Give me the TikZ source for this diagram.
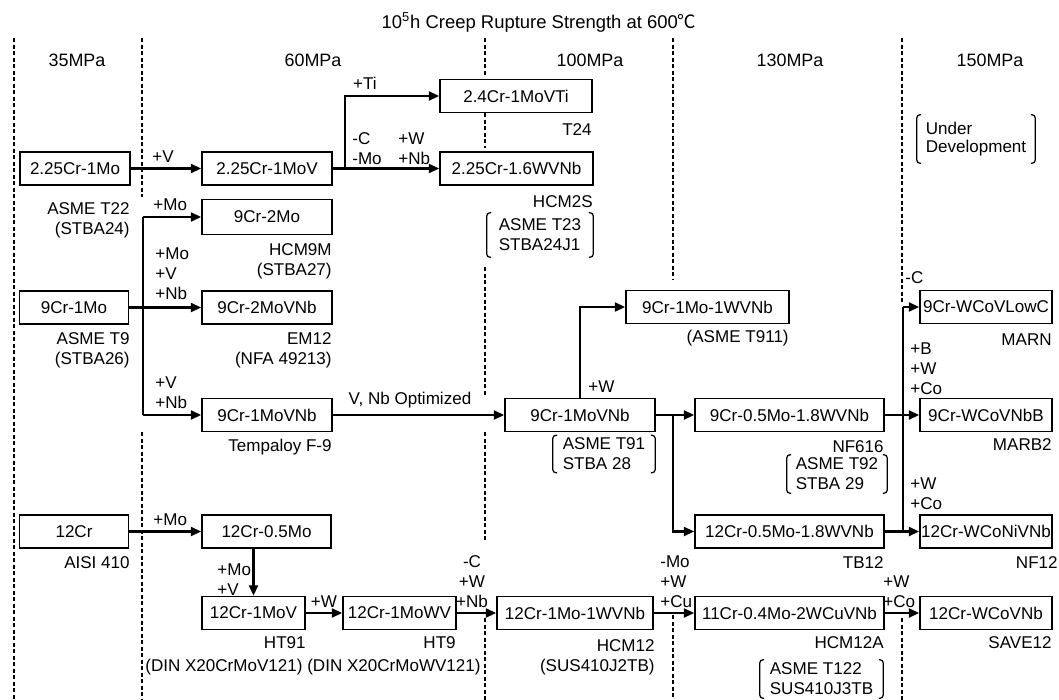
\documentclass[tikz,border=0pt]{standalone}
\usepackage{fontspec}
\setmainfont{Liberation Sans}
\newfontfamily\cjk{Noto Sans CJK SC}
\usetikzlibrary{arrows.meta}
\newcommand\lblfont{\fontsize{9.7pt}{11.4pt}\selectfont}
\newcommand\drawbrk[1]{%
 \draw[brkline] ([xshift=2.5pt]#1.north west) -- (#1.north west) -- (#1.south west) -- ([xshift=2.5pt]#1.south west);
 \draw[brkline] ([xshift=-2.5pt]#1.north east) -- (#1.north east) -- (#1.south east) -- ([xshift=-2.5pt]#1.south east);}
\begin{document}
\begin{tikzpicture}[x=0.02cm,y=-0.02cm,
  box/.style={draw, line width=0.75pt, inner sep=0pt, minimum height=0.66cm, font=\lblfont},
  lbl/.style={inner sep=0pt, font=\lblfont},
  hdr/.style={inner sep=0pt, font=\fontsize{10.2pt}{12pt}\selectfont},
  conn/.style={line width=1.5pt},
  arr/.style={conn, -{Triangle[length=6pt,width=5pt]}},
  sep/.style={line width=1.1pt, dash pattern=on 2.5pt off 1.2pt},
  brkline/.style={line width=0.7pt, rounded corners=2pt},
  bnode/.style={inner sep=0pt, font=\lblfont, align=left}]
\useasboundingbox (0,0) rectangle (1059,700);
% column separators
\draw[sep] (14,38) -- (14,700);
\draw[sep] (142,38) -- (142,197);
\draw[sep] (142,432) -- (142,700);
\draw[sep] (485,38) -- (485,76);
\draw[sep] (485,113) -- (485,148);
\draw[sep] (485,267) -- (485,397);
\draw[sep] (485,432) -- (485,542);
\draw[sep] (485,618) -- (485,700);
\draw[sep] (673,38) -- (673,280);
\draw[sep] (673,615) -- (673,700);
\draw[sep] (902,38) -- (902,303);
\draw[sep] (902,618) -- (902,700);
% title and headers
\node[inner sep=0pt, font=\fontsize{10.5pt}{12pt}\selectfont] (title) at (539,22) {10\textsuperscript{5}h Creep Rupture Strength at 600{\cjk ℃}};
\node[hdr] (h1) at (77,60) {35MPa};
\node[hdr] (h2) at (313,60) {60MPa};
\node[hdr] (h3) at (590,60) {100MPa};
\node[hdr] (h4) at (790,60) {130MPa};
\node[hdr] (h5) at (990,60) {150MPa};
% boxes
\node[box, minimum width=2.2cm] (b1) at (75,168.5) {2.25Cr-1Mo};
\node[box, minimum width=2.6cm] (b2) at (267,168.5) {2.25Cr-1MoV};
\node[box, minimum width=2.6cm, minimum height=0.7cm] (b3) at (267,217) {9Cr-2Mo};
\node[box, minimum width=3.04cm] (b4) at (516,96) {2.4Cr-1MoVTi};
\node[box, minimum width=3.06cm] (b5) at (516.5,168.5) {2.25Cr-1.6WVNb};
\node[box, minimum width=2.18cm] (b6) at (74,307.5) {9Cr-1Mo};
\node[box, minimum width=2.6cm] (b7) at (267,307.5) {9Cr-2MoVNb};
\node[box, minimum width=2.6cm] (b8) at (267,415) {9Cr-1MoVNb};
\node[box, minimum width=3.0cm] (b9) at (580,415) {9Cr-1MoVNb};
\node[box, minimum width=3.26cm] (b10) at (707.5,307) {9Cr-1Mo-1WVNb};
\node[box, minimum width=3.78cm] (b11) at (789.5,415) {9Cr-0.5Mo-1.8WVNb};
\node[box, minimum width=3.78cm] (b12) at (789.5,531.5) {12Cr-0.5Mo-1.8WVNb};
\node[box, minimum width=2.64cm] (b13) at (986,307) {9Cr-WCoVLowC};
\node[box, minimum width=2.64cm] (b14) at (986,415) {9Cr-WCoVNbB};
\node[box, minimum width=2.64cm] (b15) at (986,531.5) {12Cr-WCoNiVNb};
\node[box, minimum width=2.18cm] (b16) at (74,531.5) {12Cr};
\node[box, minimum width=2.58cm] (b17) at (266.5,531.5) {12Cr-0.5Mo};
\node[box, minimum width=2.06cm] (b18) at (253.5,613) {12Cr-1MoV};
\node[box, minimum width=2.26cm] (b19) at (399.5,613) {12Cr-1MoWV};
\node[box, minimum width=3.12cm] (b20) at (575,613) {12Cr-1Mo-1WVNb};
\node[box, minimum width=3.78cm] (b21) at (789.5,613) {11Cr-0.4Mo-2WCuVNb};
\node[box, minimum width=2.64cm] (b22) at (986,613) {12Cr-WCoVNb};
% designations
\node[lbl, anchor=east, align=right] (l1) at (130,220) {ASME T22\\(STBA24)};
\node[lbl, anchor=east] (l2) at (592,130) {T24};
\node[lbl, anchor=east] (l3) at (593,202) {HCM2S};
\node[bnode, minimum width=2.12cm, minimum height=0.88cm] (br1) at (540,235) {ASME T23\\STBA24J1};
\node[lbl, anchor=east, align=right] (l4) at (332,261) {HCM9M\\(STBA27)};
\node[lbl, anchor=east, align=right] (l5) at (130,350) {ASME T9\\(STBA26)};
\node[lbl, anchor=east, align=right] (l6) at (332,350) {EM12\\(NFA 49213)};
\node[lbl, anchor=east] (l7) at (332,447) {Tempaloy F-9};
\node[bnode, minimum width=2.04cm, minimum height=0.74cm] (br2) at (604,454) {ASME T91\\STBA 28};
\node[lbl, anchor=east] (l8) at (789,338) {(ASME T911)};
\node[lbl, anchor=east] (l9) at (884,447) {NF616};
\node[bnode, minimum width=2.0cm, minimum height=0.76cm] (br3) at (837,474) {ASME T92\\STBA 29};
\node[lbl, anchor=east] (l10) at (1052,340) {MARN};
\node[lbl, anchor=east] (l11) at (1052,445) {MARB2};
\node[lbl, anchor=east] (l12) at (884,563) {TB12};
\node[lbl, anchor=east] (l13) at (1058,563) {NF12};
\node[lbl, anchor=east] (l14) at (130,563) {AISI 410};
\node[lbl, anchor=east] (l15) at (306,643) {HT91};
\node[lbl, anchor=east] (l16) at (456,643) {HT9};
\node[lbl] (l17) at (313,667) {(DIN X20CrMoV121) (DIN X20CrMoWV121)};
\node[lbl, anchor=east, align=right] (l18) at (655,657) {HCM12\\(SUS410J2TB)};
\node[lbl, anchor=east] (l19) at (884,643) {HCM12A};
\node[bnode, minimum width=2.46cm, minimum height=0.76cm] (br4) at (821.5,679) {ASME T122\\SUS410J3TB};
\node[lbl, anchor=east] (l20) at (1052,643) {SAVE12};
\node[bnode, font=\fontsize{9.7pt}{10.2pt}\selectfont, minimum width=2.36cm, minimum height=0.96cm] (br5) at (976,139) {Under\\Development};
\drawbrk{br1}
\drawbrk{br2}
\drawbrk{br3}
\drawbrk{br4}
\drawbrk{br5}
% connectors
\coordinate (j1) at (345,168.5);
\coordinate (j2a) at (143,217);
\coordinate (j2b) at (143,415);
\coordinate (j3) at (673,415);
\coordinate (j4a) at (903,307);
\coordinate (j4b) at (903,531.5);
\draw[arr] (b1) -- (b2);
\draw[arr] (b2) -- (b5);
\draw[arr] (j1) |- (b4.west);
\draw[conn] (j2a) -- (j2b);
\draw[arr] (j2a) -- (b3.west);
\draw[arr] (b6) -- (b7);
\draw[arr] (j2b) -- (b8.west);
\draw[arr] (b8) -- (b9);
\draw[arr] (b9) -- (b11);
\draw[arr] (j3) |- (b12.west);
\draw[arr] (b9.north) |- (b10.west);
\draw[arr] (b11) -- (b14);
\draw[conn] (j4a) -- (j4b);
\draw[arr] (j4a) -- (b13.west);
\draw[arr] (b12) -- (b15);
\draw[arr] (b16) -- (b17);
\draw[arr] (b18.north |- b17.south) -- (b18.north);
\draw[arr] (b18) -- (b19);
\draw[arr] (b19) -- (b20);
\draw[arr] (b20) -- (b21);
\draw[arr] (b21) -- (b22);
% connector labels
\node[lbl] (e1) at (163,157) {+V};
\node[lbl] (e2) at (365,83) {+Ti};
\node[lbl, anchor=west, align=left] (e3) at (352,149) {-C\\-Mo};
\node[lbl, anchor=west, align=left] (e4) at (398,149) {+W\\+Nb};
\node[lbl, anchor=west] (e5) at (153,205) {+Mo};
\node[lbl, anchor=west, align=left] (e6) at (155,274) {+Mo\\+V\\+Nb};
\node[lbl, anchor=west, align=left] (e7) at (155,393) {+V\\+Nb};
\node[lbl] (e8) at (410,400) {V, Nb Optimized};
\node[lbl, anchor=west] (e9) at (588,387) {+W};
\node[lbl, anchor=west] (e10) at (905,278) {-C};
\node[lbl, anchor=west, align=left] (e11) at (910,369) {+B\\+W\\+Co};
\node[lbl, anchor=west, align=left] (e12) at (910,494) {+W\\+Co};
\node[lbl, anchor=west] (e13) at (153,520) {+Mo};
\node[lbl, anchor=west, align=left] (e14) at (217,580) {+Mo\\+V};
\node[lbl] (e15) at (324,602) {+W};
\node[lbl, align=center] (e16) at (472,582) {-C\\+W\\+Nb};
\node[lbl, anchor=west, align=left] (e17) at (660,582) {-Mo\\+W\\+Cu};
\node[lbl, anchor=west, align=left] (e18) at (883,592) {+W\\+Co};
\end{tikzpicture}
\end{document}
